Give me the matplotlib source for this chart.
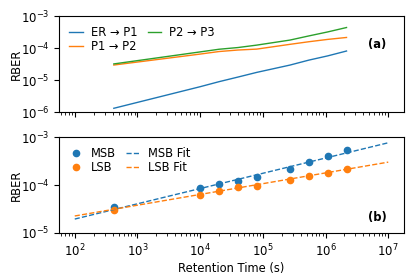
import matplotlib
matplotlib.use('Agg')
import matplotlib.pyplot as plt
from matplotlib import ticker

plt.rcParams['font.size'] = 8.3

# retention times (s)
times = [420, 1.0e4, 2.0e4, 4.0e4, 8.0e4, 2.7e5, 5.4e5, 1.08e6, 2.16e6]

# (a) state-transition error rates
er_p1 = [1.31e-6, 6.2e-6, 8.9e-6, 1.24e-5, 1.74e-5, 2.94e-5, 4.2e-5, 5.7e-5, 8.1e-5]
p1_p2 = [2.95e-5, 6.5e-5, 7.8e-5, 8.7e-5, 9.3e-5, 1.31e-4, 1.58e-4, 1.87e-4, 2.15e-4]
p2_p3 = [3.2e-5, 7.6e-5, 9.2e-5, 1.04e-4, 1.24e-4, 1.78e-4, 2.4e-4, 3.2e-4, 4.4e-4]

# (b) measured RBER per page and power-law fits
msb = [3.5e-5, 8.5e-5, 1.03e-4, 1.21e-4, 1.45e-4, 2.2e-4, 2.97e-4, 4.0e-4, 5.4e-4]
lsb = [3.0e-5, 6.2e-5, 7.5e-5, 8.9e-5, 9.5e-5, 1.27e-4, 1.54e-4, 1.8e-4, 2.15e-4]
fit_t = [1e2, 1e7]
msb_fit = [1.95e-5, 7.6e-4]
lsb_fit = [2.26e-5, 3.0e-4]

fig = plt.figure(figsize=(4.19, 2.78), dpi=100)
ax1 = fig.add_axes([0.141, 0.597, 0.823, 0.345])
ax2 = fig.add_axes([0.141, 0.162, 0.823, 0.345], sharex=ax1)

leg_kw = dict(loc='upper left', ncol=2, frameon=False, fontsize=8.3,
              handlelength=1.15, handletextpad=0.7, columnspacing=0.9,
              labelspacing=0.05, borderaxespad=0.5)

ax1.plot(times, er_p1, color='C0', lw=1, label='ER \u2192 P1')
ax1.plot(times, p1_p2, color='C1', lw=1, label='P1 \u2192 P2')
ax1.plot(times, p2_p3, color='C2', lw=1, label='P2 \u2192 P3')
ax1.set_xscale('log')
ax1.set_yscale('log')
ax1.set_ylim(1e-6, 1e-3)
ax1.set_ylabel('RBER')
ax1.legend(**leg_kw)
ax1.text(0.95, 0.7, '(a)', transform=ax1.transAxes, fontweight='bold',
         ha='right', va='center')
plt.setp(ax1.get_xticklabels(), visible=False)

ax2.plot(times, msb, 'o', color='C0', ms=4.5, label='MSB')
ax2.plot(times, lsb, 'o', color='C1', ms=4.5, label='LSB')
ax2.plot(fit_t, msb_fit, '--', color='C0', lw=1, label='MSB Fit')
ax2.plot(fit_t, lsb_fit, '--', color='C1', lw=1, label='LSB Fit')
ax2.set_xscale('log')
ax2.set_yscale('log')
ax2.set_ylim(1e-5, 1e-3)
ax2.set_xlim(10**1.75, 10**7.25)
ax2.set_ylabel('RBER')
ax2.set_xlabel('Retention Time (s)', labelpad=2)
ax2.legend(**leg_kw)
ax2.text(0.95, 0.16, '(b)', transform=ax2.transAxes, fontweight='bold',
         ha='right', va='center')

for ax in (ax1, ax2):
    ax.yaxis.set_minor_locator(ticker.NullLocator())
    ax.tick_params(labelsize=8.5)
    ax.yaxis.set_label_coords(-0.105, 0.5)

fig.savefig('out.png', dpi=100)
